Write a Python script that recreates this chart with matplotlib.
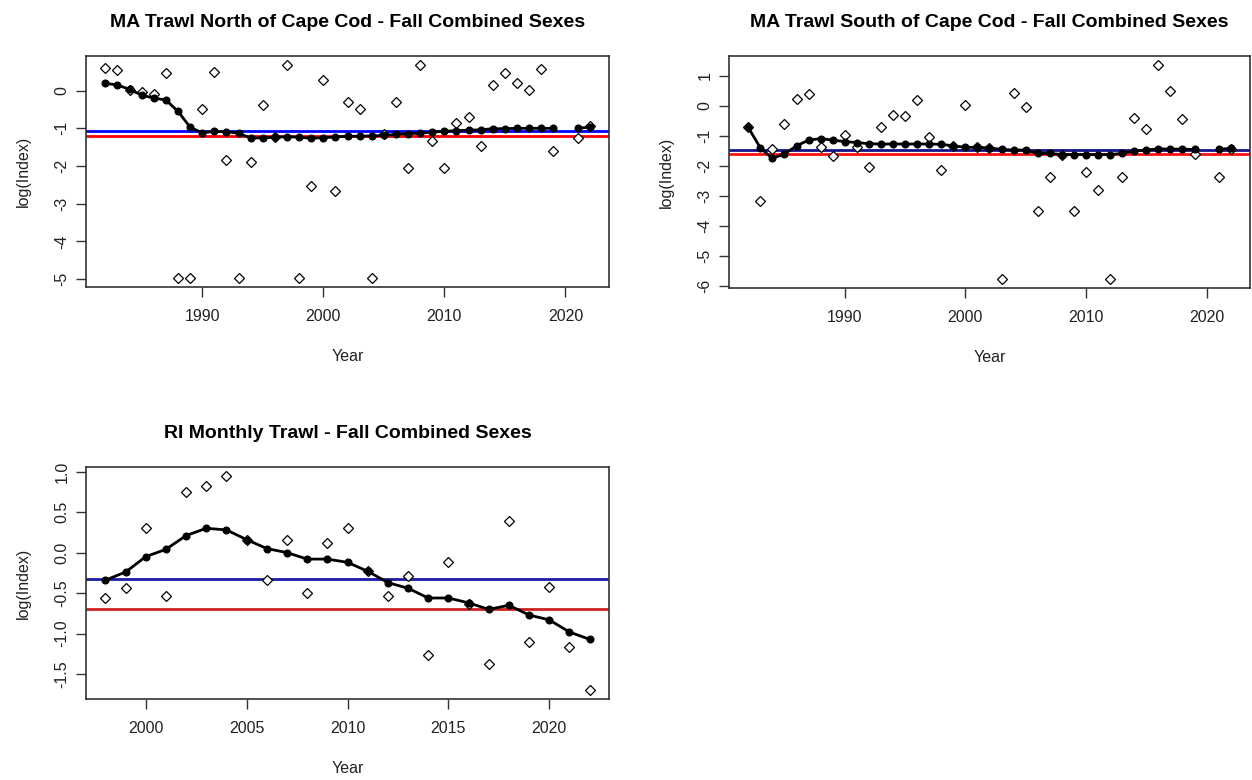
import numpy as np
import matplotlib
matplotlib.use("Agg")
import matplotlib.pyplot as plt
from matplotlib.ticker import FormatStrFormatter

plt.rcParams['font.family'] = ['Liberation Sans', 'DejaVu Sans']
plt.rcParams['axes.unicode_minus'] = False

nan = np.nan

# ---------------- data ----------------
years_ma = list(range(1982, 2023))
north_obs = [0.60, 0.54, 0.02, -0.03, -0.10, 0.47, -4.98, -4.98, -0.49, 0.50,
             -1.85, -4.98, -1.88, -0.37, -1.22, 0.67, -4.98, -2.52, 0.28, -2.65,
             -0.31, -0.50, -4.98, -1.15, -0.31, -2.04, 0.69, -1.34, -2.04, -0.85,
             -0.69, -1.47, 0.15, 0.47, 0.21, 0.02, 0.56, -1.59, nan, -1.27, -0.95]
north_fit = [0.19, 0.15, 0.03, -0.12, -0.20, -0.25, -0.55, -0.97, -1.12, -1.08,
             -1.09, -1.13, -1.26, -1.25, -1.24, -1.22, -1.24, -1.26, -1.25, -1.23,
             -1.21, -1.21, -1.20, -1.19, -1.16, -1.14, -1.13, -1.10, -1.08, -1.06,
             -1.05, -1.04, -1.01, -1.01, -1.00, -1.00, -1.00, -1.00, nan, -1.00, -0.97]
north_blue = -1.07
north_red = -1.20

south_obs = [-0.72, -3.17, -1.42, -0.61, 0.23, 0.40, -1.38, -1.68, -0.96, -1.38,
             -2.04, -0.70, -0.29, -0.33, 0.20, -1.05, -2.13, -1.33, 0.03, -1.38,
             -1.40, -5.77, 0.44, -0.05, -3.50, -2.36, -1.62, -3.50, -2.19, -2.80,
             -5.77, -2.36, -0.41, -0.78, 1.37, 0.48, -0.45, -1.60, nan, -2.36, -1.42]
south_fit = [-0.72, -1.40, -1.75, -1.60, -1.33, -1.14, -1.09, -1.14, -1.19, -1.22,
             -1.26, -1.27, -1.27, -1.27, -1.27, -1.27, -1.28, -1.33, -1.38, -1.38,
             -1.40, -1.45, -1.47, -1.47, -1.58, -1.58, -1.62, -1.62, -1.62, -1.62,
             -1.62, -1.58, -1.50, -1.47, -1.43, -1.44, -1.44, -1.45, nan, -1.45, -1.41]
south_blue = -1.47
south_red = -1.59

years_ri = list(range(1998, 2023))
ri_obs = [-0.56, -0.44, 0.30, -0.53, 0.75, 0.82, 0.95, 0.16, -0.34, 0.15,
          -0.50, 0.12, 0.30, -0.23, -0.53, -0.29, -1.26, -0.11, -0.63, -1.37,
          0.39, -1.10, -0.42, -1.16, -1.70]
ri_fit = [-0.34, -0.24, -0.05, 0.04, 0.21, 0.30, 0.28, 0.16, 0.05, 0.00,
          -0.08, -0.08, -0.12, -0.23, -0.37, -0.44, -0.56, -0.56, -0.62, -0.70,
          -0.65, -0.77, -0.83, -0.98, -1.07]
ri_blue = -0.33
ri_red = -0.69

titles = ["MA Trawl North of Cape Cod - Fall Combined Sexes",
          "MA Trawl South of Cape Cod - Fall Combined Sexes",
          "RI Monthly Trawl - Fall Combined Sexes"]
xticks_ma = [1990, 2000, 2010, 2020]
xticks_ri = [2000, 2005, 2010, 2015, 2020]
yticks_north = [-5, -4, -3, -2, -1, 0]
yticks_south = [-6, -5, -4, -3, -2, -1, 0, 1]
yticks_ri = [-1.5, -1.0, -0.5, 0.0, 0.5, 1.0]

# ---------------- layout ----------------
W, H = 1252, 780
fig = plt.figure(figsize=(W / 100, H / 100), dpi=100)


def px_axes(left, right, top, bottom):
    return fig.add_axes([left / W, 1 - bottom / H, (right - left) / W, (bottom - top) / H])


def r_lim(vals):
    v = np.asarray(vals, dtype=float)
    v = v[~np.isnan(v)]
    lo, hi = v.min(), v.max()
    d = (hi - lo) * 0.04
    return lo - d, hi + d


def panel(ax, years, obs, fit, blue, red, title, xticks, yticks, yfmt,
          blue_c, red_c):
    ax.plot(years, obs, linestyle='none', marker='D', ms=4.8, mfc='white',
            mec='black', mew=0.9, zorder=3)
    ax.plot(years, fit, color='black', lw=2.0, marker='o', ms=4.8, zorder=4)
    ax.axhline(blue, color=blue_c, lw=2.0, zorder=2)
    ax.axhline(red, color=red_c, lw=2.0, zorder=2)
    ax.set_xlim(*r_lim(years))
    ax.set_ylim(*r_lim(list(obs) + list(fit)))
    ax.set_xticks(xticks)
    ax.set_yticks(yticks)
    ax.yaxis.set_major_formatter(FormatStrFormatter(yfmt))
    ax.tick_params(axis='both', direction='out', length=7, width=1.0,
                   color='#333333', labelsize=11.5, labelcolor='#222222')
    ax.tick_params(axis='x', pad=9)
    ax.tick_params(axis='y', pad=5)
    for lab in ax.get_yticklabels():
        lab.set_rotation(90)
        lab.set_va('center')
        lab.set_ha('right')
    for s in ax.spines.values():
        s.set_color('#333333')
        s.set_linewidth(1.2)
    ax.set_title(title, fontsize=14, fontweight='bold', pad=21)
    ax.set_xlabel("Year", fontsize=11.5, labelpad=18, color='#222222')
    ax.set_ylabel("log(Index)", fontsize=11.5, labelpad=17, color='#222222')


ax1 = px_axes(86, 609, 56, 287)
panel(ax1, years_ma, north_obs, north_fit, north_blue, north_red, titles[0],
      xticks_ma, yticks_north, '%d', '#0000ff', '#ff0000')

ax2 = px_axes(729, 1250, 56, 288)
panel(ax2, years_ma, south_obs, south_fit, south_blue, south_red, titles[1],
      xticks_ma, yticks_south, '%d', '#14148c', '#ff1010')

ax3 = px_axes(86, 609, 467, 699)
panel(ax3, years_ri, ri_obs, ri_fit, ri_blue, ri_red, titles[2],
      xticks_ri, yticks_ri, '%.1f', '#1c1ca8', '#cc2222')

fig.savefig("out.png", dpi=100, facecolor='white')
